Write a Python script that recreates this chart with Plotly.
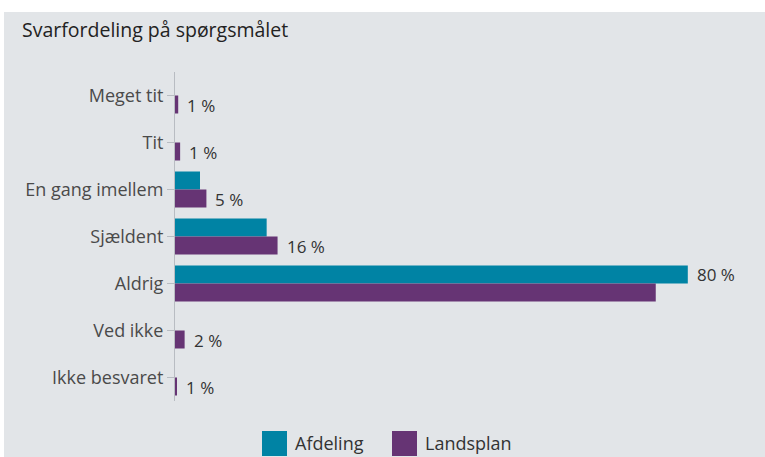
import plotly.graph_objects as go

categories = ["Meget tit", "Tit", "En gang imellem", "Sjældent", "Aldrig", "Ved ikke", "Ikke besvaret"]
series_names = ["Afdeling", "Landsplan"]
afdeling = [0, 0, 3.9, 14.3, 80, 0, 0]
landsplan = [0.5, 0.8, 4.9, 16, 75, 1.5, 0.3]
value_labels = ["1 %", "1 %", "5 %", "16 %", "80 %", "2 %", "1 %"]

TEAL = "#0083a4"
PURPLE = "#663474"
BG = "#e2e5e8"
FONT = "Open Sans, Lato, sans-serif"

# plot-area geometry (pixels) used to place styling elements in paper coords
L, R, T, B = 175, 20, 72, 56
W, H = 765, 457
PW, PH = W - L - R, H - T - B


def px_x(p):
    return (p - L) / PW


def px_y(p):
    return (H - B - p) / PH


fig = go.Figure()
fig.add_trace(go.Bar(
    y=categories, x=afdeling, name=series_names[0], orientation="h",
    marker=dict(color=TEAL, line=dict(width=0)), showlegend=False,
))
fig.add_trace(go.Bar(
    y=categories, x=landsplan, name=series_names[1], orientation="h",
    marker=dict(color=PURPLE, line=dict(width=0)), showlegend=False,
))

annotations = []
for cat, a, l, lab in zip(categories, afdeling, landsplan, value_labels):
    on_teal = a > l
    annotations.append(dict(
        x=max(a, l), y=cat, xref="x", yref="y", text=lab, showarrow=False,
        xanchor="left", yanchor="middle", xshift=7, yshift=(9 if on_teal else -10),
        font=dict(size=17, color="#333333", family=FONT),
    ))

# custom legend (large squares as in the reference)
legend_left = [262, 392]
for name, color, x0 in zip(series_names, [TEAL, PURPLE], legend_left):
    annotations.append(dict(
        x=px_x(x0 + 31), y=px_y(443), xref="paper", yref="paper", text=name,
        showarrow=False, xanchor="left", yanchor="middle",
        font=dict(size=18, color="#333333", family=FONT),
    ))

shapes = [dict(type="rect", xref="paper", yref="paper",
               x0=px_x(4), x1=px_x(800), y0=px_y(480), y1=px_y(12),
               fillcolor=BG, line=dict(width=0), layer="below")]
for color, x0 in zip([TEAL, PURPLE], legend_left):
    shapes.append(dict(type="rect", xref="paper", yref="paper",
                       x0=px_x(x0), x1=px_x(x0 + 25), y0=px_y(456), y1=px_y(431),
                       fillcolor=color, line=dict(width=0), layer="above"))

fig.update_layout(
    width=W, height=H,
    margin=dict(l=L, r=R, t=T, b=B),
    paper_bgcolor="white",
    plot_bgcolor=BG,
    barmode="group",
    bargap=0.234,
    bargroupgap=0,
    showlegend=False,
    font=dict(family=FONT, size=18, color="#444444"),
    title=dict(text="Svarfordeling på spørgsmålet", x=22/W, xanchor="left",
               y=1 - 30/H, yanchor="middle",
               font=dict(size=19.5, color="#222222", family=FONT)),
    xaxis=dict(range=[0, PW/6.41], visible=False, showgrid=False, zeroline=False),
    yaxis=dict(autorange="reversed", showgrid=False, zeroline=False,
               showline=True, linecolor="#b8bcc2", linewidth=1,
               ticks="outside", ticklen=7, tickcolor="#b8bcc2",
               tickfont=dict(size=18, color="#4a4a4a", family=FONT)),
    annotations=annotations,
    shapes=shapes,
)

fig.write_html("out.html", config={"displayModeBar": False},
               post_script="document.body.style.margin='0';document.body.style.overflow='hidden';")
